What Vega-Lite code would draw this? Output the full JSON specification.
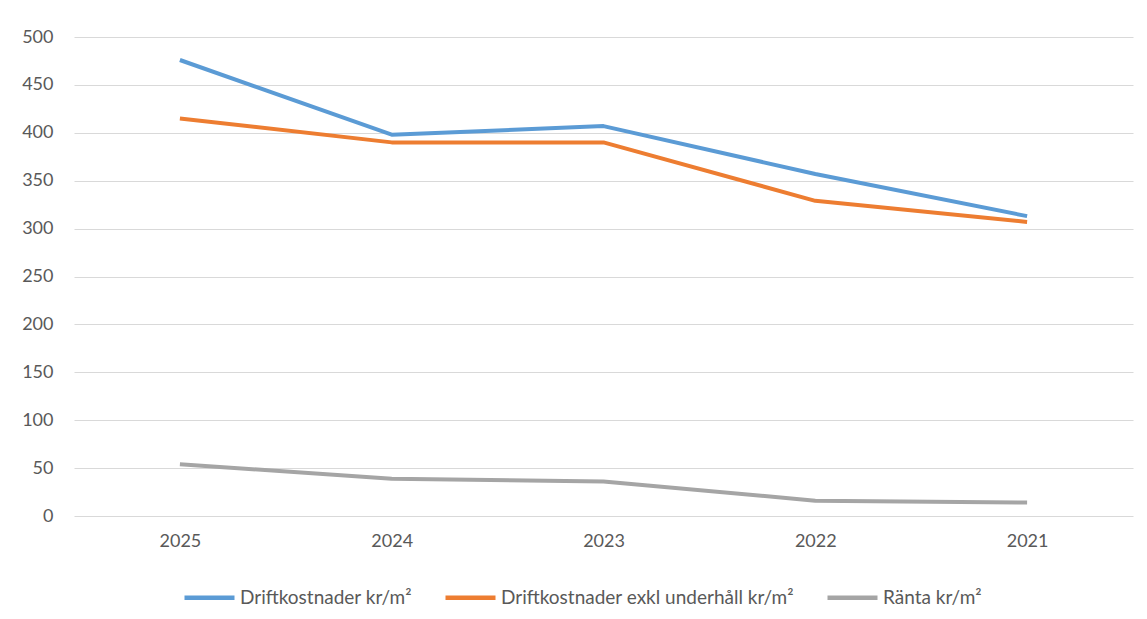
{
  "$schema": "https://vega.github.io/schema/vega-lite/v6.json",
  "width": 1059,
  "height": 479,
  "autosize": {"type": "none"},
  "padding": {"left": 74, "top": 37, "right": 14, "bottom": 103},
  "background": "white",
  "config": {
    "font": "Lato",
    "view": {"stroke": null}
  },
  "data": {
    "values": [
      {"year": "2025", "series": "Driftkostnader kr/m²", "value": 476},
      {"year": "2024", "series": "Driftkostnader kr/m²", "value": 398},
      {"year": "2023", "series": "Driftkostnader kr/m²", "value": 407},
      {"year": "2022", "series": "Driftkostnader kr/m²", "value": 357},
      {"year": "2021", "series": "Driftkostnader kr/m²", "value": 313},
      {"year": "2025", "series": "Driftkostnader exkl underhåll kr/m²", "value": 415},
      {"year": "2024", "series": "Driftkostnader exkl underhåll kr/m²", "value": 390},
      {"year": "2023", "series": "Driftkostnader exkl underhåll kr/m²", "value": 390},
      {"year": "2022", "series": "Driftkostnader exkl underhåll kr/m²", "value": 329},
      {"year": "2021", "series": "Driftkostnader exkl underhåll kr/m²", "value": 307},
      {"year": "2025", "series": "Ränta kr/m²", "value": 54},
      {"year": "2024", "series": "Ränta kr/m²", "value": 39},
      {"year": "2023", "series": "Ränta kr/m²", "value": 36},
      {"year": "2022", "series": "Ränta kr/m²", "value": 16},
      {"year": "2021", "series": "Ränta kr/m²", "value": 14}
    ]
  },
  "mark": {"type": "line", "strokeWidth": 4, "strokeCap": "butt", "strokeJoin": "round"},
  "encoding": {
    "x": {
      "field": "year",
      "type": "ordinal",
      "sort": ["2025", "2024", "2023", "2022", "2021"],
      "scale": {"type": "point", "padding": 0.5},
      "axis": {
        "title": null,
        "domain": false,
        "ticks": false,
        "labelAngle": 0,
        "labelFontSize": 18,
        "labelColor": "#595959",
        "labelPadding": 16,
        "grid": false
      }
    },
    "y": {
      "field": "value",
      "type": "quantitative",
      "scale": {"domain": [0, 500]},
      "axis": {
        "title": null,
        "domain": false,
        "ticks": false,
        "values": [0, 50, 100, 150, 200, 250, 300, 350, 400, 450, 500],
        "labelFontSize": 18,
        "labelColor": "#595959",
        "labelPadding": 21,
        "gridColor": "#D9D9D9",
        "gridWidth": 1.2
      }
    },
    "color": {
      "field": "series",
      "type": "nominal",
      "scale": {
        "domain": ["Driftkostnader kr/m²", "Driftkostnader exkl underhåll kr/m²", "Ränta kr/m²"],
        "range": ["#5B9BD5", "#ED7D31", "#A5A5A5"]
      },
      "legend": {
        "title": null,
        "orient": "none",
        "direction": "horizontal",
        "legendX": 108,
        "legendY": 533,
        "symbolType": "stroke",
        "symbolSize": 2500,
        "symbolStrokeWidth": 4.5,
        "labelFontSize": 19,
        "labelColor": "#595959",
        "labelOffset": 3,
        "columnPadding": 24,
        "labelLimit": 500
      }
    }
  }
}
